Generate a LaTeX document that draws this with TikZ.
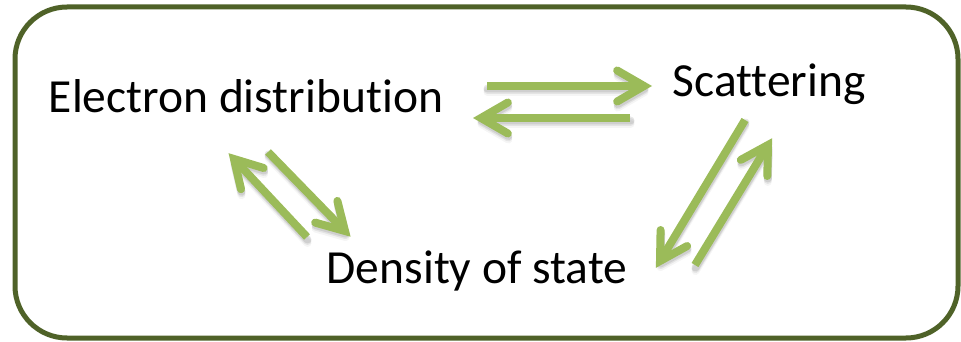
\documentclass[tikz,border=0pt]{standalone}
\usepackage{fontspec}
\setmainfont[Ligatures=NoCommon]{Carlito}
\usetikzlibrary{calc}
\definecolor{framegreen}{HTML}{4F6228}
\definecolor{arrowgreen}{HTML}{9BBB59}
\tikzset{
  x=1pt, y=-1pt,
  label/.style={font=\fontsize{47.5}{48}\selectfont, inner sep=0pt, anchor=base},
  flow/.style={draw=arrowgreen, line width=8pt, line cap=round, line join=miter, miter limit=4},
  flowshade/.style={draw=black, line width=8pt, line cap=round, line join=round},
  frame/.style={draw=framegreen, line width=5pt, rounded corners=52pt}
}
% soft shadow, shaft from #1 to #2, and an open chevron head at #2
\newcommand\flowarrow[2]{%
  \foreach \dy/\op in {6/0.04, 4/0.07, 2.5/0.09}{%
    \draw[flowshade, opacity=\op, transform canvas={shift={(0.5pt,-\dy pt)}}]
      (#1) -- (#2)
      ($(#2)!31pt!30:(#1)$) -- (#2) -- ($(#2)!31pt!-30:(#1)$);
  }
  \draw[flow, line cap=butt] (#1) -- (#2);
  \draw[flow] ($(#2)!31pt!30:(#1)$) -- (#2) -- ($(#2)!31pt!-30:(#1)$);
}
\begin{document}
\begin{tikzpicture}
\useasboundingbox (0,0) rectangle (961,342);
\draw[frame] (15,7) rectangle (958,338);

\node[label] (ed) at (246,113) {Electron distribution};
\node[label] (sc) at (769,97) {Scattering};
\node[label] (ds) at (477,283) {Density of state};

% arrow end points around the three labels
\coordinate (edR1) at (487,86);
\coordinate (scL1) at (644,86);
\coordinate (scL2) at (630,118);
\coordinate (edR2) at (481,118);
\coordinate (edB1) at (234,159);
\coordinate (dsL1) at (307,237);
\coordinate (edB2) at (268,152);
\coordinate (dsL2) at (345,231);
\coordinate (scB1) at (745,120);
\coordinate (dsR1) at (660,261);
\coordinate (dsR2) at (695,265);
\coordinate (scB2) at (768,145);

\flowarrow{edR1}{scL1}
\flowarrow{scL2}{edR2}
\flowarrow{dsL1}{edB1}
\flowarrow{edB2}{dsL2}
\flowarrow{scB1}{dsR1}
\flowarrow{dsR2}{scB2}
\end{tikzpicture}
\end{document}
